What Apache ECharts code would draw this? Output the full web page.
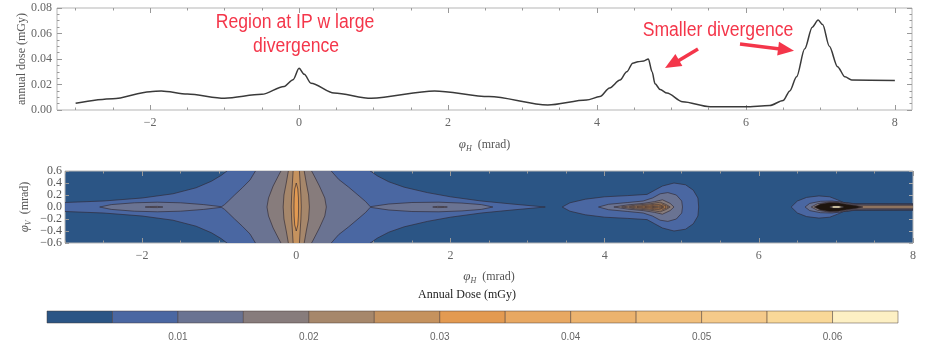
<!DOCTYPE html>
<html>
<head>
<meta charset="utf-8">
<script src="https://cdn.jsdelivr.net/npm/echarts@6/dist/echarts.min.js"></script>
<style>
html,body{margin:0;padding:0;background:#fff}
#main{width:925px;height:342px}
</style>
</head>
<body>
<div id="main"></div>
<script>
// profile along phi_H (phi_V = 0)
var phiH = [-3.0,-2.5,-2.0,-1.85,-1.5,-1.0,-0.5,-0.2,-0.08,0,0.07,0.16,0.47,0.97,1.82,2.55,3.34,3.86,4.04,4.17,4.31,4.40,4.48,4.55,4.63,4.69,4.74,4.78,4.85,4.94,5.15,5.52,5.99,6.32,6.50,6.59,6.68,6.79,6.89,6.97,7.03,7.12,7.23,7.33,7.42,8.0];
var dose = [0.0053,0.0088,0.0144,0.0149,0.0125,0.0092,0.0123,0.0185,0.0238,0.0327,0.0280,0.0210,0.0133,0.0092,0.0150,0.0105,0.0039,0.0078,0.0105,0.0173,0.0235,0.0300,0.0367,0.0378,0.0385,0.0400,0.0300,0.0205,0.0160,0.0133,0.0065,0.0026,0.0025,0.0035,0.0075,0.0150,0.0260,0.0480,0.0650,0.0705,0.0670,0.0500,0.0340,0.0260,0.0235,0.0232];

var ticksMajorH = [-2, 0, 2, 4, 6, 8];
var ticksMinorH = [-3,-2.5,-1.5,-1,-0.5,0.5,1,1.5,2.5,3,3.5,4.5,5,5.5,6.5,7,7.5];

// contour levels (mGy) and colour bar labels
var bandLevels = [0,0.005,0.01,0.015,0.02,0.025,0.03,0.035,0.04,0.045,0.05,0.055,0.06,0.065];
var barLabels = [0.01,0.02,0.03,0.04,0.05,0.06];
var bandColors = ['#2b5585','#4a67a2','#6a7392','#877c7c','#a6876b','#c5925e','#e39a51','#e8a862','#ecb36e','#f1bf7c','#f5ca8a','#f9d898','#fdf0c4'];

// contour outlines, upper half [phiH, phiV]; the map is symmetric in phiV
var band2Central = [[-3.1,0.07],[-2.5,0.1],[-2.0,0.15],[-1.6,0.22],[-1.3,0.32],[-1.1,0.43],[-0.97,0.53],[-0.88,0.62],[0.94,0.62],[1.05,0.52],[1.2,0.42],[1.4,0.33],[1.7,0.24],[2.0,0.17],[2.4,0.1],[2.8,0.05],[3.23,0]];
var band2Mid = [[3.45,0],[3.55,0.07],[3.75,0.13],[4.0,0.17],[4.3,0.19],[4.55,0.21],[4.65,0.28],[4.75,0.35],[4.9,0.4],[5.05,0.37],[5.15,0.28],[5.21,0.15],[5.22,0]];
var band2Far = [[6.42,0],[6.5,0.1],[6.62,0.16],[6.78,0.185],[6.92,0.17],[7.02,0.12],[7.1,0.075],[7.25,0.055],[8.1,0.055]];
var band3Central = [[-2.55,0],[-2.4,0.04],[-2.1,0.07],[-1.8,0.08],[-1.5,0.07],[-1.2,0.04],[-0.97,0.005],[-0.93,0.04],[-0.88,0.1],[-0.8,0.2],[-0.7,0.32],[-0.6,0.45],[-0.52,0.62],[0.44,0.62],[0.55,0.46],[0.68,0.33],[0.8,0.2],[0.9,0.09],[0.96,0.005],[1.2,0.05],[1.5,0.075],[1.85,0.08],[2.15,0.065],[2.4,0.04],[2.55,0]];
var band3Mid = [[3.92,0],[4.05,0.045],[4.3,0.075],[4.5,0.1],[4.62,0.15],[4.72,0.22],[4.82,0.24],[4.93,0.2],[5.0,0.1],[5.01,0]];
var band3Far = [[6.6,0],[6.66,0.06],[6.8,0.095],[6.95,0.1],[7.08,0.08],[7.25,0.05],[8.1,0.045]];
var band4Left = [[-1.96,0],[-1.9,0.008],[-1.8,0.01],[-1.73,0]];
var band4Right = [[1.77,0],[1.83,0.01],[1.92,0.008],[1.96,0]];
var band4Central = [[-0.38,0],[-0.36,0.15],[-0.3,0.35],[-0.22,0.55],[-0.19,0.62],[0.19,0.62],[0.22,0.55],[0.3,0.35],[0.37,0.15],[0.39,0]];
var band4Mid = [[4.12,0],[4.3,0.035],[4.5,0.06],[4.65,0.09],[4.75,0.12],[4.85,0.06],[4.9,0]];
var band4Far = [[6.68,0],[6.76,0.055],[6.92,0.085],[7.05,0.08],[7.2,0.045],[7.4,0.035],[8.1,0.035]];
var band5Central = [[-0.17,0],[-0.16,0.2],[-0.13,0.4],[-0.1,0.62],[0.1,0.62],[0.13,0.4],[0.16,0.2],[0.17,0]];
var band5Mid = [[4.22,0],[4.4,0.03],[4.6,0.055],[4.72,0.08],[4.8,0.04],[4.85,0]];
var band5Far = [[7.2,0.02],[8.1,0.02]];
var band6Central = [[-0.065,0],[-0.06,0.2],[-0.05,0.4],[-0.04,0.62],[0.04,0.62],[0.05,0.4],[0.06,0.2],[0.065,0]];
var band6Mid = [[4.32,0],[4.5,0.025],[4.65,0.045],[4.74,0.05],[4.8,0.02],[4.83,0]];
var band7Central = [[-0.03,0],[-0.028,0.15],[-0.02,0.3],[0,0.4],[0.02,0.3],[0.028,0.15],[0.03,0]];
var band7Mid = [[4.42,0],[4.58,0.02],[4.7,0.035],[4.78,0.015],[4.8,0]];
var band8Mid = [[4.52,0],[4.65,0.012],[4.72,0.02],[4.77,0]];
var band9Mid = [[4.62,0],[4.7,0.008],[4.75,0]];
var coreFar = [[6.72,0],[6.8,0.05],[6.92,0.075],[7.03,0.07],[7.14,0.045],[7.25,0.025],[7.35,0]];
var peakFar = [[6.92,0],[6.97,0.018],[7.04,0.018],[7.1,0]];

function closeShape(upper) {
    var lower = upper.slice().reverse().map(function (p) { return [p[0], -p[1]]; });
    return upper.concat(lower);
}

var contourShapes = [
    {band: 2, pts: band2Central}, {band: 2, pts: band2Mid}, {band: 2, pts: band2Far},
    {band: 3, pts: band3Central}, {band: 3, pts: band3Mid}, {band: 3, pts: band3Far},
    {band: 4, pts: band4Left}, {band: 4, pts: band4Right}, {band: 4, pts: band4Central},
    {band: 4, pts: band4Mid}, {band: 4, pts: band4Far},
    {band: 5, pts: band5Central}, {band: 5, pts: band5Mid}, {band: 5, pts: band5Far},
    {band: 6, pts: band6Central}, {band: 6, pts: band6Mid},
    {band: 7, pts: band7Central}, {band: 7, pts: band7Mid},
    {band: 8, pts: band8Mid}, {band: 9, pts: band9Mid},
    {band: 0, pts: coreFar}, {band: 13, pts: peakFar}
];

var serif = '"Liberation Serif","DejaVu Serif",serif';
var sans = '"Liberation Sans",Arial,sans-serif';
var red = '#f4364a';
var noteFont = '20px "Liberation Sans",Arial,sans-serif';

function tickAxis(grid, pos, vals, len, extra) {
    var a = {
        gridIndex: grid, type: 'value', position: pos,
        axisLine: {show: false, onZero: false}, splitLine: {show: false},
        axisTick: {show: true, inside: true, length: len, customValues: vals, lineStyle: {color: '#999'}},
        axisLabel: {show: false}
    };
    for (var k in extra) a[k] = extra[k];
    return a;
}

function phiName(sub) {
    return '{i|φ}{s|' + sub + '}  (mrad)';
}
var nameStyle = {
    fontFamily: serif, fontSize: 12, color: '#555',
    rich: {
        i: {fontFamily: serif, fontStyle: 'italic', fontSize: 13, color: '#555', lineHeight: 16},
        s: {fontFamily: serif, fontStyle: 'italic', fontSize: 8, color: '#555', lineHeight: 16, verticalAlign: 'bottom'}
    }
};
function minus(v) { return v < 0 ? '\u2212' + (-v) : String(v); }

function note(text, x, y) {
    return {type: 'text', x: x, y: y, scaleX: 0.88, originX: 0, style: {text: text, align: 'center', verticalAlign: 'middle', font: noteFont, fill: red}};
}

var chart = echarts.init(document.getElementById('main'));
chart.setOption({
    animation: false,
    grid: [
        {left: 57, top: 8, width: 855, height: 102, show: true, borderColor: '#b5b5b5', borderWidth: 1},
        {left: 65, top: 171, width: 848, height: 72, show: true, borderColor: '#b5b5b5', borderWidth: 1, backgroundColor: bandColors[0]},
        {left: 47, top: 311, width: 851, height: 13}
    ],
    xAxis: [
        tickAxis(0, 'bottom', ticksMajorH, 5, {
            min: -3.25, max: 8.23,
            name: phiName('H'), nameLocation: 'middle', nameGap: 27, nameTextStyle: nameStyle,
            axisLabel: {show: true, customValues: ticksMajorH, margin: 7, fontFamily: serif, fontSize: 12, color: '#666', formatter: minus}
        }),
        tickAxis(0, 'top', ticksMajorH, 5, {min: -3.25, max: 8.23}),
        tickAxis(0, 'bottom', ticksMinorH, 2.5, {min: -3.25, max: 8.23}),
        tickAxis(0, 'top', ticksMinorH, 2.5, {min: -3.25, max: 8.23}),
        tickAxis(1, 'bottom', ticksMajorH, 5, {
            min: -3, max: 8,
            name: phiName('H'), nameLocation: 'middle', nameGap: 26, nameTextStyle: nameStyle,
            axisLabel: {show: true, customValues: ticksMajorH, margin: 7, fontFamily: serif, fontSize: 12, color: '#666', formatter: minus}
        }),
        tickAxis(1, 'top', ticksMajorH, 5, {min: -3, max: 8}),
        tickAxis(1, 'bottom', ticksMinorH, 2.5, {min: -3, max: 8}),
        tickAxis(1, 'top', ticksMinorH, 2.5, {min: -3, max: 8}),
        {
            gridIndex: 2, type: 'value', min: 0, max: 0.065,
            axisLine: {show: false, onZero: false}, axisTick: {show: false}, splitLine: {show: false},
            axisLabel: {customValues: barLabels, margin: 9, fontFamily: sans, fontSize: 10, color: '#666'}
        }
    ],
    yAxis: [
        {
            gridIndex: 0, type: 'value', min: 0, max: 0.08, interval: 0.02, position: 'left',
            axisLine: {show: false, onZero: false}, splitLine: {show: false},
            axisTick: {inside: true, length: 5, lineStyle: {color: '#999'}},
            minorTick: {show: true, splitNumber: 4, length: 2.5, lineStyle: {color: '#999'}},
            axisLabel: {margin: 5, fontFamily: serif, fontSize: 12, color: '#666',
                formatter: function (v) { return v.toFixed(2); }},
            name: 'annual dose (mGy)', nameLocation: 'middle', nameGap: 29, nameMoveOverlap: false,
            nameTextStyle: {fontFamily: serif, fontSize: 12, color: '#555'}
        },
        {
            gridIndex: 0, type: 'value', min: 0, max: 0.08, interval: 0.02, position: 'right',
            axisLine: {show: false, onZero: false}, splitLine: {show: false}, axisLabel: {show: false},
            axisTick: {inside: true, length: 5, lineStyle: {color: '#999'}},
            minorTick: {show: true, splitNumber: 4, length: 2.5, lineStyle: {color: '#999'}}
        },
        {
            gridIndex: 1, type: 'value', min: -0.6, max: 0.6, interval: 0.2, position: 'left',
            axisLine: {show: false, onZero: false}, splitLine: {show: false},
            axisTick: {inside: true, length: 4, lineStyle: {color: '#999'}},
            axisLabel: {margin: 3, fontFamily: serif, fontSize: 12, color: '#555',
                formatter: function (v) { var s = Math.abs(v).toFixed(1); return v < -1e-9 ? '\u2212' + s : s; }},
            name: phiName('V'), nameLocation: 'middle', nameGap: 32, nameMoveOverlap: false, nameTextStyle: nameStyle
        },
        {
            gridIndex: 1, type: 'value', min: -0.6, max: 0.6, interval: 0.2, position: 'right',
            axisLine: {show: false, onZero: false}, splitLine: {show: false}, axisLabel: {show: false},
            axisTick: {inside: true, length: 4, lineStyle: {color: '#aaa'}}
        },
        {gridIndex: 2, type: 'value', min: 0, max: 1, show: false}
    ],
    series: [
        {
            type: 'line', xAxisIndex: 0, yAxisIndex: 0,
            data: phiH.map(function (x, i) { return [x, dose[i]]; }),
            showSymbol: false, smooth: 0.3, smoothMonotone: 'x',
            lineStyle: {color: '#3a3a3a', width: 1.5}
        },
        {
            type: 'custom', xAxisIndex: 4, yAxisIndex: 2, clip: true,
            data: contourShapes.map(function (s, i) { return [i]; }),
            renderItem: function (params, api) {
                var s = contourShapes[params.dataIndex];
                var pts = closeShape(s.pts).map(function (p) { return api.coord(p); });
                var cs = params.coordSys;
                return {
                    type: 'polygon',
                    shape: {points: pts},
                    clipPath: {type: 'rect', shape: {x: cs.x, y: cs.y, width: cs.width, height: cs.height}},
                    style: {
                        fill: s.band === 0 ? '#1e150e' : bandColors[s.band - 1],
                        stroke: 'rgba(45,40,50,0.8)', lineWidth: 0.8
                    }
                };
            }
        },
        {
            type: 'custom', xAxisIndex: 8, yAxisIndex: 4,
            data: bandColors.map(function (c, i) { return [bandLevels[i], bandLevels[i + 1]]; }),
            renderItem: function (params, api) {
                var a = api.coord([api.value(0), 1]);
                var b = api.coord([api.value(1), 0]);
                return {
                    type: 'rect',
                    shape: {x: a[0], y: a[1], width: b[0] - a[0], height: b[1] - a[1]},
                    style: {fill: bandColors[params.dataIndex], stroke: 'rgba(70,55,50,0.6)', lineWidth: 0.8}
                };
            }
        }
    ],
    graphic: [
        note('Region at IP w large', 295, 22),
        note('divergence', 296, 46),
        note('Smaller divergence', 718, 30),
        {type: 'line', shape: {x1: 698, y1: 49, x2: 678, y2: 61}, style: {stroke: red, lineWidth: 3.5}},
        {type: 'polygon', shape: {points: [[665, 68], [682.4, 66.1], [675.4, 53.9]]}, style: {fill: red}},
        {type: 'line', shape: {x1: 740, y1: 44, x2: 780, y2: 49}, style: {stroke: red, lineWidth: 3.5}},
        {type: 'polygon', shape: {points: [[794, 50.7], [777.2, 55.6], [779, 41.8]]}, style: {fill: red}},
        {type: 'text', x: 467, y: 295, style: {text: 'Annual Dose (mGy)', align: 'center', verticalAlign: 'middle', font: '12px ' + serif, fill: '#222'}}
    ]
});
</script>
</body>
</html>
